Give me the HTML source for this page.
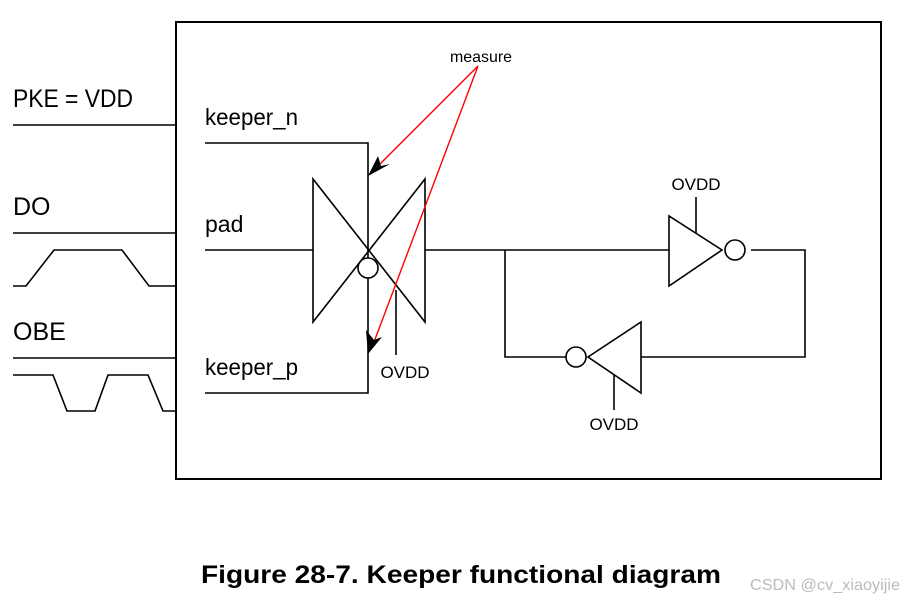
<!DOCTYPE html>
<html><head><style>
body{margin:0;background:#fff;width:905px;height:601px;overflow:hidden}
text{font-family:"Liberation Sans",sans-serif;fill:#000}
</style></head><body>
<svg width="905" height="601" viewBox="0 0 905 601" xmlns="http://www.w3.org/2000/svg">
<g fill="none" stroke="#000" stroke-width="1.6">
<rect x="176" y="22" width="705" height="457" stroke-width="2"/>
<line x1="13" y1="125" x2="176" y2="125"/>
<line x1="13" y1="233" x2="176" y2="233"/>
<polyline points="13,286 26,286 54,250 122,250 149,286 176,286"/>
<line x1="13" y1="358" x2="176" y2="358"/>
<polyline points="13,375 53,375 67,411 95,411 108,375 148,375 163,411 176,411"/>
<polyline points="205,143 368,143 368,258"/>
<polyline points="368,278 368,393 205,393"/>
<line x1="205" y1="250" x2="313" y2="250"/>
<polygon points="313,179 313,322 425,179 425,322"/>
<circle cx="368" cy="268" r="10" fill="#fff"/>
<line x1="396" y1="290" x2="396" y2="355"/>
<polyline points="425,250 669,250"/>
<polygon points="669,216 669,286 722,250"/>
<circle cx="735" cy="250" r="10"/>
<polyline points="751,250 805,250 805,357 641,357"/>
<polygon points="641,322 641,393 588,357"/>
<circle cx="576" cy="357" r="10"/>
<polyline points="566,357 505,357 505,250"/>
<line x1="696" y1="197" x2="696" y2="233"/>
<line x1="614" y1="375" x2="614" y2="410"/>
</g>
<g stroke="red" stroke-width="1.4">
<line x1="478" y1="66" x2="378" y2="166"/>
<line x1="478" y1="66" x2="374" y2="342"/>
</g>
<polygon points="368,176 378,156 381,166 390,164" fill="#000"/>
<polygon points="368,354 366,330 374,340 382,337" fill="#000"/>
<text x="450" y="62" font-size="16" textLength="62" lengthAdjust="spacingAndGlyphs">measure</text>
<text x="13" y="107" font-size="25" textLength="120" lengthAdjust="spacingAndGlyphs">PKE = VDD</text>
<text x="13" y="215" font-size="25">DO</text>
<text x="13" y="340" font-size="25">OBE</text>
<text x="205" y="125" font-size="23" textLength="93" lengthAdjust="spacingAndGlyphs">keeper_n</text>
<text x="205" y="232" font-size="23">pad</text>
<text x="205" y="375" font-size="23" textLength="93" lengthAdjust="spacingAndGlyphs">keeper_p</text>
<text x="405" y="378" font-size="17" text-anchor="middle">OVDD</text>
<text x="696" y="190" font-size="17" text-anchor="middle">OVDD</text>
<text x="614" y="430" font-size="17" text-anchor="middle">OVDD</text>
<text x="201" y="583" font-size="25" font-weight="bold" textLength="520" lengthAdjust="spacingAndGlyphs">Figure 28-7. Keeper functional diagram</text>
<text x="750" y="590" font-size="16" textLength="150" lengthAdjust="spacingAndGlyphs" style="fill:#bbb">CSDN @cv_xiaoyijie</text>
</svg>
</body></html>
